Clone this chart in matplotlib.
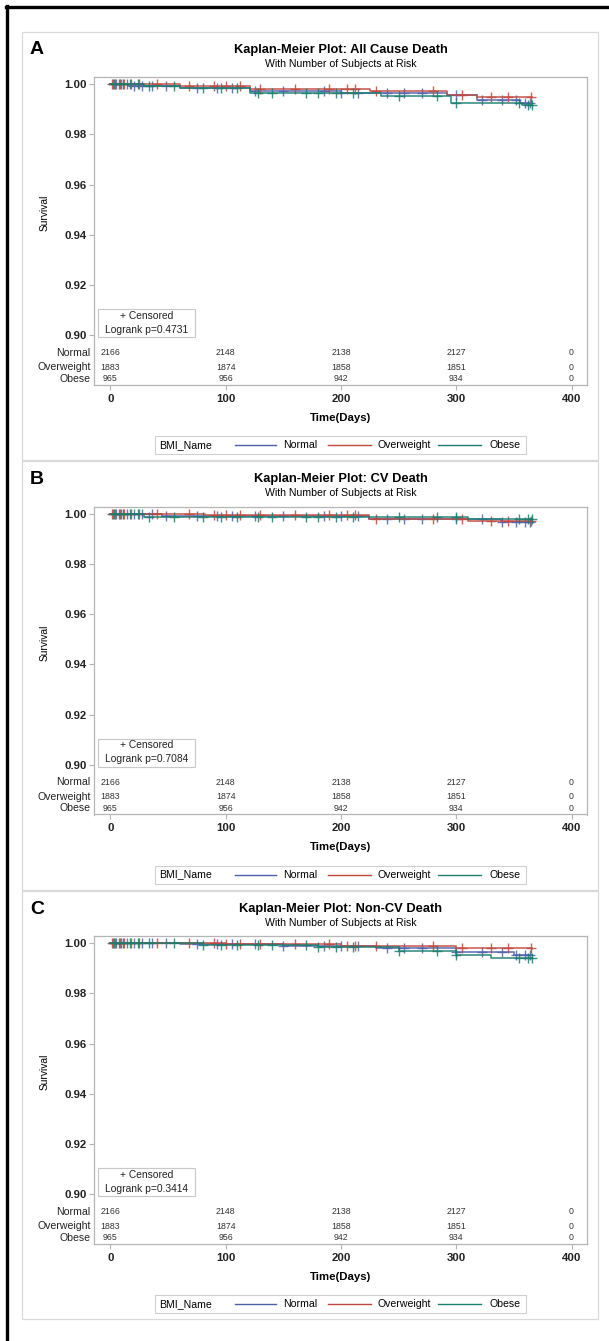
import numpy as np
import matplotlib
matplotlib.use("Agg")
import matplotlib.pyplot as plt
from matplotlib.lines import Line2D
from matplotlib.patches import Rectangle
from matplotlib.transforms import blended_transform_factory

plt.rcParams['font.family'] = ['Liberation Sans', 'DejaVu Sans']

# ---------------- data ----------------
groups = ["Normal", "Overweight", "Obese"]
colors = ["#4d60ac", "#c0473d", "#1b7d6e"]
panel_letters = ["A", "B", "C"]
panel_titles = ["Kaplan-Meier Plot: All Cause Death",
                "Kaplan-Meier Plot: CV Death",
                "Kaplan-Meier Plot: Non-CV Death"]
logrank_p = ["0.4731", "0.7084", "0.3414"]

risk_times = [0, 100, 200, 300, 400]
risk_normal = [2166, 2148, 2138, 2127, 0]
risk_overweight = [1883, 1874, 1858, 1851, 0]
risk_obese = [965, 956, 942, 934, 0]

# KM step curves (time in days, survival)
a_normal_t = [0, 15, 60, 121, 200, 292, 318, 355, 366]
a_normal_s = [1.0, 0.9993, 0.9985, 0.9974, 0.9965, 0.9958, 0.9938, 0.9925, 0.9925]
a_over_t = [0, 60, 121, 225, 292, 318, 366]
a_over_s = [1.0, 0.9994, 0.9982, 0.9973, 0.9958, 0.9949, 0.9949]
a_obese_t = [0, 29, 60, 121, 235, 295, 357, 366]
a_obese_s = [1.0, 0.9992, 0.9985, 0.9965, 0.9955, 0.9927, 0.9918, 0.9918]

b_normal_t = [0, 45, 120, 224, 339, 366]
b_normal_s = [1.0, 0.9992, 0.9989, 0.9980, 0.9966, 0.9966]
b_over_t = [0, 82, 224, 310, 366]
b_over_s = [1.0, 0.9994, 0.9977, 0.9972, 0.9972]
b_obese_t = [0, 29, 310, 366]
b_obese_s = [1.0, 0.9988, 0.9977, 0.9977]

c_normal_t = [0, 60, 150, 230, 300, 350, 366]
c_normal_s = [1.0, 0.9995, 0.9988, 0.9982, 0.9965, 0.9953, 0.9953]
c_over_t = [0, 100, 200, 300, 366]
c_over_s = [1.0, 0.9995, 0.9990, 0.9980, 0.9975]
c_obese_t = [0, 80, 180, 250, 300, 330, 366]
c_obese_s = [1.0, 0.9993, 0.9985, 0.9968, 0.9955, 0.9943, 0.9943]

# censoring times
cens_normal = [2, 5, 9, 14, 20, 27, 36, 48, 75, 92, 105, 125, 150, 185, 200,
               215, 240, 255, 270, 300, 322, 340, 352, 360, 364]
cens_over = [1, 4, 8, 12, 18, 25, 40, 68, 90, 100, 112, 130, 160, 190, 205,
             212, 230, 280, 305, 330, 345, 365]
cens_obese = [3, 7, 11, 17, 24, 33, 55, 80, 96, 110, 128, 140, 170, 180, 196,
              210, 250, 283, 300, 354, 362, 366]

curves = [
    [(a_normal_t, a_normal_s), (a_over_t, a_over_s), (a_obese_t, a_obese_s)],
    [(b_normal_t, b_normal_s), (b_over_t, b_over_s), (b_obese_t, b_obese_s)],
    [(c_normal_t, c_normal_s), (c_over_t, c_over_s), (c_obese_t, c_obese_s)],
]
censors = [cens_normal, cens_over, cens_obese]
risk = [risk_normal, risk_overweight, risk_obese]

# ---------------- layout ----------------
W, H = 609, 1341
fig = plt.figure(figsize=(W / 100, H / 100), dpi=100)
fig.patch.set_facecolor("white")


def fx(px):
    return px / W


def fy(py):
    return 1 - py / H


# outer black frame (top and left visible)
fig.add_artist(Line2D([fx(7), fx(7)], [fy(6), 0], color="black", lw=2.4,
                      transform=fig.transFigure))
fig.add_artist(Line2D([fx(6), 1.0], [fy(7), fy(7)], color="black", lw=2.4,
                      transform=fig.transFigure))

grey = "#b5b5b5"
offsets = [0, 429.5, 859]
ylo, yhi = 0.88028, 1.00287
row_frac = [0.1039, 0.0584, 0.0195]

for p in range(3):
    off = offsets[p]
    # panel frame
    fig.add_artist(Rectangle((fx(22), fy(460 + off)), fx(598) - fx(22),
                             fy(32 + off) - fy(460 + off), fill=False,
                             edgecolor="#d9d9d9", lw=0.9,
                             transform=fig.transFigure))
    ax = fig.add_axes([fx(94), fy(385 + off), fx(587) - fx(94),
                       fy(77 + off) - fy(385 + off)])
    ax.set_xlim(-14.3, 413.4)
    ax.set_ylim(ylo, yhi)
    for sp in ax.spines.values():
        sp.set_color(grey)
        sp.set_linewidth(0.9)
    ax.set_yticks([0.90, 0.92, 0.94, 0.96, 0.98, 1.00])
    ax.set_yticklabels(["%.2f" % v for v in [0.90, 0.92, 0.94, 0.96, 0.98, 1.00]],
                       fontweight="bold", fontsize=8.2, color="#222222")
    ax.set_xticks([0, 100, 200, 300, 400])
    ax.set_xticklabels(["0", "100", "200", "300", "400"], fontweight="bold",
                       fontsize=8.2, color="#222222")
    ax.tick_params(axis="both", direction="out", length=3.6, width=0.8,
                   color=grey)
    ax.tick_params(axis="y", pad=1.8)
    ax.tick_params(axis="x", pad=2.6)

    for g in range(3):
        t, s = curves[p][g]
        t = np.asarray(t, float)
        s = np.asarray(s, float)
        ax.step(t, s, where="post", color=colors[g], lw=1.2, alpha=0.85)
        ct = np.asarray(censors[g], float)
        idx = np.searchsorted(t, ct, side="right") - 1
        ax.plot(ct, s[idx], linestyle="none", marker="+", markersize=6.5,
                mew=1.0, color=colors[g], alpha=0.85)

    # at-risk table
    trans = blended_transform_factory(ax.transData, ax.transAxes)
    for g in range(3):
        ax.text(-0.007, row_frac[g], groups[g], transform=ax.transAxes,
                ha="right", va="center", fontsize=7.6, color="#222222")
        for xt, n in zip(risk_times, risk[g]):
            ax.text(xt, row_frac[g], str(n), transform=trans, ha="center",
                    va="center", fontsize=6.3, color="#333333")

    # censored / logrank box
    fig.add_artist(Rectangle((fx(98), fy(337 + off)), fx(195) - fx(98),
                             fy(309 + off) - fy(337 + off), fill=False,
                             edgecolor="#c8c8c8", lw=0.8,
                             transform=fig.transFigure))
    fig.text(fx(146.5), fy(316 + off), "+ Censored", ha="center", va="center",
             fontsize=7.4, color="#222222")
    fig.text(fx(146.5), fy(330 + off), "Logrank p=" + logrank_p[p],
             ha="center", va="center", fontsize=7.4, color="#222222")

    # titles
    fig.text(fx(30), fy(50 + off), panel_letters[p], fontsize=14,
             fontweight="bold", ha="left", va="center")
    fig.text(fx(340.5), fy(50 + off), panel_titles[p], fontsize=9.3,
             fontweight="bold", ha="center", va="center")
    fig.text(fx(340.5), fy(64 + off), "With Number of Subjects at Risk",
             fontsize=7.6, ha="center", va="center")
    fig.text(fx(45), fy(213 + off), "Survival", rotation=90, fontsize=7.4,
             ha="center", va="center")
    fig.text(fx(340.5), fy(418 + off), "Time(Days)", fontsize=8.2,
             fontweight="bold", ha="center", va="center")

    # bottom legend
    fig.add_artist(Rectangle((fx(155), fy(454 + off)), fx(526) - fx(155),
                             fy(436 + off) - fy(454 + off), fill=False,
                             edgecolor="#d0d0d0", lw=0.8,
                             transform=fig.transFigure))
    fig.text(fx(159), fy(445 + off), "BMI_Name", fontsize=7.6, ha="left",
             va="center")
    seg = [(235, 276, 283), (328, 371, 377), (438, 481, 489)]
    for g in range(3):
        x0, x1, xt = seg[g]
        fig.add_artist(Line2D([fx(x0), fx(x1)], [fy(445 + off)] * 2,
                              color=colors[g], lw=1.0,
                              transform=fig.transFigure))
        fig.text(fx(xt), fy(445 + off), groups[g], fontsize=7.6, ha="left",
                 va="center")

fig.savefig("out.png", dpi=100, facecolor="white")
